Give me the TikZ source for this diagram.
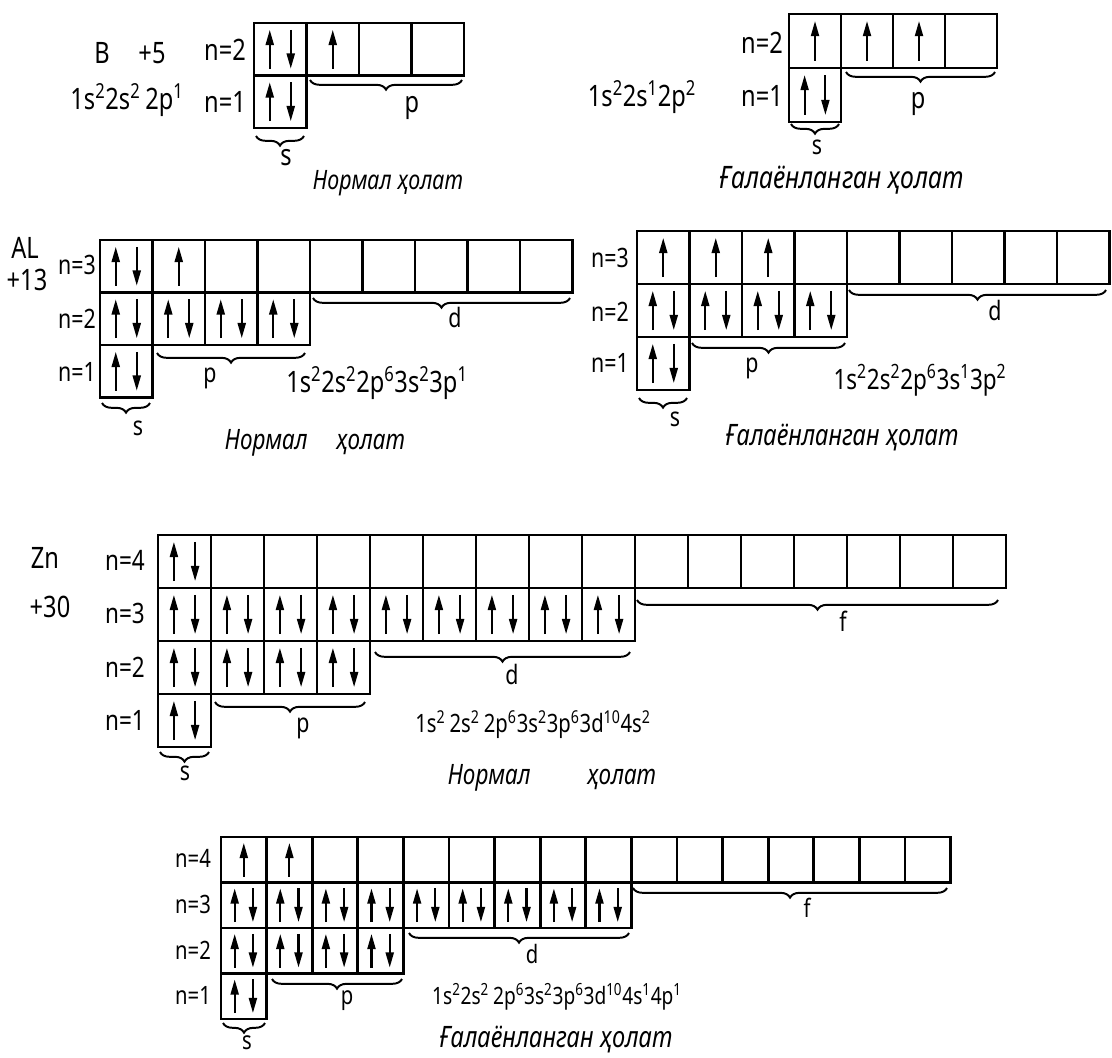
\documentclass[tikz,border=0pt]{standalone}
\usepackage{fontspec}
\setmainfont{Noto Sans}[FakeStretch=0.8]
\usetikzlibrary{arrows.meta,calc,positioning,decorations.pathreplacing}

\newcommand{\orb}[2]{#1\textsuperscript{#2}}
% one row of cells: left, top, width, height, {0 = empty, 1 = up, 2 = up and down}
\newcommand{\orbrow}[5]{%
  \foreach \occ [count=\k from 0] in {#5}{
    \draw[cellbox] ({#1+\k*#3},#2) rectangle ++(#3,#4);
    \ifnum\occ=1
      \draw[spin] ({#1+(\k+0.5)*#3},{#2+0.87*#4}) -- ++(0,{-0.74*#4});
    \fi
    \ifnum\occ=2
      \draw[spin] ({#1+(\k+0.3)*#3},{#2+0.87*#4}) -- ++(0,{-0.74*#4});
      \draw[spin] ({#1+(\k+0.7)*#3},{#2+0.13*#4}) -- ++(0,{0.74*#4});
    \fi
  }}

\begin{document}
\begin{tikzpicture}[
  x=0.25mm, y=-0.25mm,
  cellbox/.style={draw, line width=2pt},
  spin/.style={line width=1.5pt, -{Triangle[length=3.8mm,width=2mm]}},
  lbl/.style={inner sep=0pt, font=\fontsize{#1}{#1}\selectfont},
  lbl/.default=19,
  cfg/.style={inner sep=0pt, font=\fontsize{#1}{#1}\selectfont},
  cfg/.default=20,
  captxt/.style={inner sep=0pt, font=\fontsize{#1}{#1}\selectfont\itshape},
  captxt/.default=20,
  obrace/.style={decorate, decoration={brace, mirror, amplitude=2.4mm}, line width=1.4pt}
]
  \useasboundingbox (0,0) rectangle (1112,1057);

  % B, normal state
  \orbrow{254}{23}{52.5}{52.5}{2,1,0,0}
  \orbrow{254}{75.5}{52.5}{52.5}{2}
  \node[cfg=21] (bsym) at (102,53) {B};
  \node[cfg=21] (bchg) at (152,53) {+5};
  \node[lbl=21] (bnorm2) at (225,50) {n=2};
  \node[lbl=21] (bnorm1) at (225,102) {n=1};
  \node[cfg=21] (bnormcfg) at (127,100) {\orb{1s}{2}\orb{2s}{2}\,\orb{2p}{1}};
  \draw[obrace] (256,136) -- (304,136);
  \node[lbl=21] (bnorms) at (286,158) {s};
  \draw[obrace] (310,80) -- (462,80);
  \node[lbl=21] (bnormp) at (412,108) {p};
  \node[captxt=19] (bnormcap) at (388,183) {Нормал ҳолат};

  % B, excited state
  \orbrow{789}{14}{52}{54}{1,1,1,0}
  \orbrow{789}{68}{52}{54}{2}
  \node[lbl=21] (bexc2) at (762,43) {n=2};
  \node[lbl=21] (bexc1) at (762,96) {n=1};
  \node[cfg=21] (bexccfg) at (642,97) {\orb{1s}{2}\orb{2s}{1}\orb{2p}{2}};
  \draw[obrace] (791,124) -- (839,124);
  \node[lbl] (bexcs) at (817,147) {s};
  \draw[obrace] (846,72) -- (995,72);
  \node[lbl=21] (bexcp) at (918,104) {p};
  \node[captxt=22] (bexccap) at (842,180) {Ғалаёнланган ҳолат};

  % Al, normal state
  \orbrow{100}{240}{52.5}{52.5}{2,1,0,0,0,0,0,0,0}
  \orbrow{100}{292.5}{52.5}{52.5}{2,2,2,2}
  \orbrow{100}{345}{52.5}{52.5}{2}
  \node[cfg=21] (alsym) at (25,248) {AL};
  \node[cfg=21] (alchg) at (27,280) {+13};
  \node[lbl] (alnorm3) at (77,265) {n=3};
  \node[lbl] (alnorm2) at (77,319) {n=2};
  \node[lbl] (alnorm1) at (77,372) {n=1};
  \draw[obrace] (102,403) -- (150,403);
  \node[lbl] (alnorms) at (138,428) {s};
  \draw[obrace] (157,353) -- (305,353);
  \node[lbl] (alnormp) at (210,378) {p};
  \draw[obrace] (313,298) -- (570,298);
  \node[lbl] (alnormd) at (455,317) {d};
  \node[cfg=21] (alnormcfg) at (377,383) {\orb{1s}{2}\orb{2s}{2}\orb{2p}{6}\orb{3s}{2}\orb{3p}{1}};
  \node[captxt] (alnormcap) at (315,443) {Нормал\quad ҳолат};

  % Al, excited state
  \orbrow{637}{231}{52.5}{53}{1,1,1,0,0,0,0,0,0}
  \orbrow{637}{284}{52.5}{53}{2,2,2,2}
  \orbrow{637}{337}{52.5}{53}{2}
  \node[lbl] (alexc3) at (610,258) {n=3};
  \node[lbl] (alexc2) at (610,312) {n=2};
  \node[lbl] (alexc1) at (610,363) {n=1};
  \draw[obrace] (639,398) -- (687,398);
  \node[lbl] (alexcs) at (675,419) {s};
  \draw[obrace] (692,343) -- (845,343);
  \node[lbl] (alexcp) at (752,368) {p};
  \draw[obrace] (849,290) -- (1106,290);
  \node[lbl] (alexcd) at (995,310) {d};
  \node[cfg] (alexccfg) at (920,380) {\orb{1s}{2}\orb{2s}{2}\orb{2p}{6}\orb{3s}{1}\orb{3p}{2}};
  \node[captxt=21] (alexccap) at (842,438) {Ғалаёнланган ҳолат};

  % Zn, normal state
  \orbrow{158}{535}{53}{53}{2,0,0,0,0,0,0,0,0,0,0,0,0,0,0,0}
  \orbrow{158}{588}{53}{53}{2,2,2,2,2,2,2,2,2}
  \orbrow{158}{641}{53}{53}{2,2,2,2}
  \orbrow{158}{694}{53}{53}{2}
  \node[cfg=21] (znsym) at (45,558) {Zn};
  \node[cfg=21] (znchg) at (50,607) {+30};
  \node[lbl=20] (znnorm4) at (125,560) {n=4};
  \node[lbl=20] (znnorm3) at (125,613) {n=3};
  \node[lbl=20] (znnorm2) at (125,667) {n=2};
  \node[lbl=20] (znnorm1) at (125,720) {n=1};
  \draw[obrace] (160,752) -- (209,752);
  \node[lbl] (znnorms) at (185,773) {s};
  \draw[obrace] (215,702) -- (365,702);
  \node[lbl] (znnormp) at (303,728) {p};
  \draw[obrace] (375,652) -- (630,652);
  \node[lbl] (znnormd) at (512,674) {d};
  \draw[obrace] (637,600) -- (998,600);
  \node[lbl] (znnormf) at (843,621) {f};
  \node[cfg=18] (znnormcfg) at (533,725) {\orb{1s}{2}\,\orb{2s}{2}\,\orb{2p}{6}\orb{3s}{2}\orb{3p}{6}\orb{3d}{10}\orb{4s}{2}};
  \node[captxt] (znnormcap) at (552,778) {Нормал\qquad ҳолат};

  % Zn, excited state
  \orbrow{221}{837}{45.6}{45.5}{1,1,0,0,0,0,0,0,0,0,0,0,0,0,0,0}
  \orbrow{221}{882.5}{45.6}{45.5}{2,2,2,2,2,2,2,2,2}
  \orbrow{221}{928}{45.6}{45.5}{2,2,2,2}
  \orbrow{221}{973.5}{45.6}{45.5}{2}
  \node[lbl=18] (znexc4) at (193,858) {n=4};
  \node[lbl=18] (znexc3) at (193,904) {n=3};
  \node[lbl=18] (znexc2) at (193,950) {n=2};
  \node[lbl=18] (znexc1) at (193,995) {n=1};
  \draw[obrace] (223,1023) -- (265,1023);
  \node[lbl=18] (znexcs) at (247,1043) {s};
  \draw[obrace] (272,979) -- (402,979);
  \node[lbl=18] (znexcp) at (347,1001) {p};
  \draw[obrace] (409,933) -- (629,933);
  \node[lbl=18] (znexcd) at (532,954) {d};
  \draw[obrace] (633,888) -- (947,888);
  \node[lbl=18] (znexcf) at (807,908) {f};
  \node[cfg=17] (znexccfg) at (557,997) {\orb{1s}{2}\orb{2s}{2}\,\orb{2p}{6}\orb{3s}{2}\orb{3p}{6}\orb{3d}{10}\orb{4s}{1}\orb{4p}{1}};
  \node[captxt=21] (znexccap) at (556,1040) {Ғалаёнланган ҳолат};
\end{tikzpicture}
\end{document}
